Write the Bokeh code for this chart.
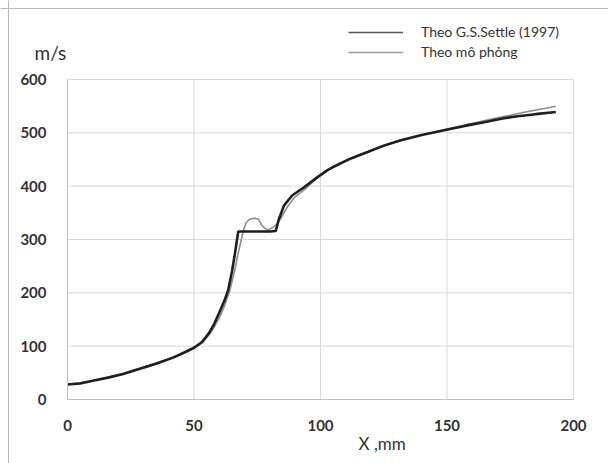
from bokeh.plotting import figure
from bokeh.models import Range1d, FixedTicker, Legend, LegendItem, Label, Span
from bokeh.embed import file_html
from bokeh.resources import INLINE

# Data (x in mm, velocity in m/s)
settle_x = [0, 5, 10, 16, 22, 29, 35, 42, 47, 50, 53, 56, 58, 60, 62, 63.5, 65, 66,
            67, 67.5, 70, 75, 80, 82.3, 83.6, 85.6, 88.9, 93.5, 98.8, 102.8, 105, 112,
            118.6, 125, 131.7, 140, 148.9, 157, 164.7, 172, 177.9, 185, 193]
settle_y = [28, 30, 35, 41, 48, 58, 67, 79, 90, 97, 107, 125, 142, 163, 185, 205, 240,
            268, 300, 315, 315, 315, 315, 316, 339, 364, 383, 398, 417, 430, 436, 452,
            464, 476, 486, 496, 505, 513, 520, 527, 531, 535, 539]

sim_x = [0, 10, 20, 30, 40, 50, 54, 57, 60, 62, 64, 66, 67.5, 68.7, 69.6, 70.5, 72,
         74, 75.5, 77, 79, 81, 83, 85, 87, 90, 94, 98, 102, 110, 120, 130, 140, 150,
         160, 170, 180, 190, 193]
sim_y = [28, 35, 46, 61, 76, 96, 110, 128, 153, 175, 202, 240, 275, 300, 318, 331, 338,
         340, 338, 325, 318, 322, 330, 345, 362, 380, 395, 412, 428, 448, 467, 483, 496,
         507, 518, 528, 538, 547, 550]

x_ticks = [0, 50, 100, 150, 200]
y_ticks = [0, 100, 200, 300, 400, 500, 600]
series_names = ["Theo G.S.Settle (1997)", "Theo mô phỏng"]
y_unit_label = "m/s"
x_axis_label = "X ,mm"

# ---- layout (pixels) ----
W, H = 608, 463
FL, FR, FT, FB = 67, 573, 79, 399          # where the data area sits on the page
X0, X1 = x_ticks[0], x_ticks[-1]
Y0, Y1 = y_ticks[0], y_ticks[-1]
sx = (FR - FL) / (X1 - X0)
sy = (FB - FT) / (Y1 - Y0)


def px2x(px):
    return X0 + (px - FL) / sx


def py2y(py):
    return Y0 + (FB - py) / sy


FONT = "Lato"
GRID = "#d9d9d9"
TXT = "#333333"
C_SETTLE = "#1e1e1e"
C_SIM = "#8c8c8c"
NAN = float("nan")

p = figure(width=W, height=H, output_backend="svg", toolbar_location=None,
           x_range=Range1d(px2x(0), px2x(W)), y_range=Range1d(py2y(H), py2y(0)),
           min_border=0)
p.title.visible = False
p.outline_line_color = None
p.background_fill_color = "white"
p.border_fill_color = "white"
p.grid.visible = False

# chart box border (top and left edges, as in the reference)
p.add_layout(Span(location=px2x(8), dimension="height", line_color="#b8b8b8", line_width=1))
p.add_layout(Span(location=py2y(8), dimension="width", line_color="#b8b8b8", line_width=1))

# grid lines within the data area
n_x, n_y = len(x_ticks), len(y_ticks)
p.segment(x0=x_ticks, y0=[Y0] * n_x, x1=x_ticks, y1=[Y1] * n_x,
          line_color=GRID, line_width=1)
p.segment(x0=[X0] * n_y, y0=y_ticks, x1=[X1] * n_y, y1=y_ticks,
          line_color=GRID, line_width=1)

p.xaxis.fixed_location = Y0
p.yaxis.fixed_location = X0
p.xaxis.bounds = (X0, X1)
p.yaxis.bounds = (Y0, Y1)
for ax in (p.xaxis[0], p.yaxis[0]):
    ax.axis_line_color = "#c0c0c0"
    ax.axis_line_width = 1
    ax.major_tick_line_color = None
    ax.minor_tick_line_color = None
    ax.major_label_text_font = FONT
    ax.major_label_text_font_style = "bold"
    ax.major_label_text_font_size = "15px"
    ax.major_label_text_color = TXT
p.xaxis.ticker = FixedTicker(ticks=x_ticks)
p.yaxis.ticker = FixedTicker(ticks=y_ticks)
p.xaxis.major_label_standoff = 14
p.yaxis.major_label_standoff = 15

p.line(sim_x, sim_y, line_color=C_SIM, line_width=1.6)
p.line(settle_x, settle_y, line_color=C_SETTLE, line_width=2.6)

# legend samples are drawn thin, as in the reference (renderers with no visible point)
leg_settle = p.line(x=[NAN], y=[NAN], line_color="#555555", line_width=1.5)
leg_sim = p.line(x=[NAN], y=[NAN], line_color="#9a9a9a", line_width=1.5)

legend = Legend(items=[LegendItem(label=series_names[0], renderers=[leg_settle]),
                       LegendItem(label=series_names[1], renderers=[leg_sim])],
                location=(348, H - 60), padding=0, margin=0, spacing=3,
                glyph_width=55, glyph_height=16, label_height=16, label_standoff=18,
                label_text_font=FONT, label_text_font_size="14px",
                label_text_color=TXT,
                background_fill_alpha=0, border_line_color=None)
p.add_layout(legend, "center")

p.add_layout(Label(x=px2x(34), y=py2y(52), text=y_unit_label, text_font=FONT,
                   text_font_size="19px", text_color=TXT, text_baseline="middle"))
p.add_layout(Label(x=px2x(358), y=py2y(443), text=x_axis_label, text_font=FONT,
                   text_font_size="17px", text_color=TXT, text_baseline="middle"))

open("out.html", "w").write(file_html(p, INLINE))
